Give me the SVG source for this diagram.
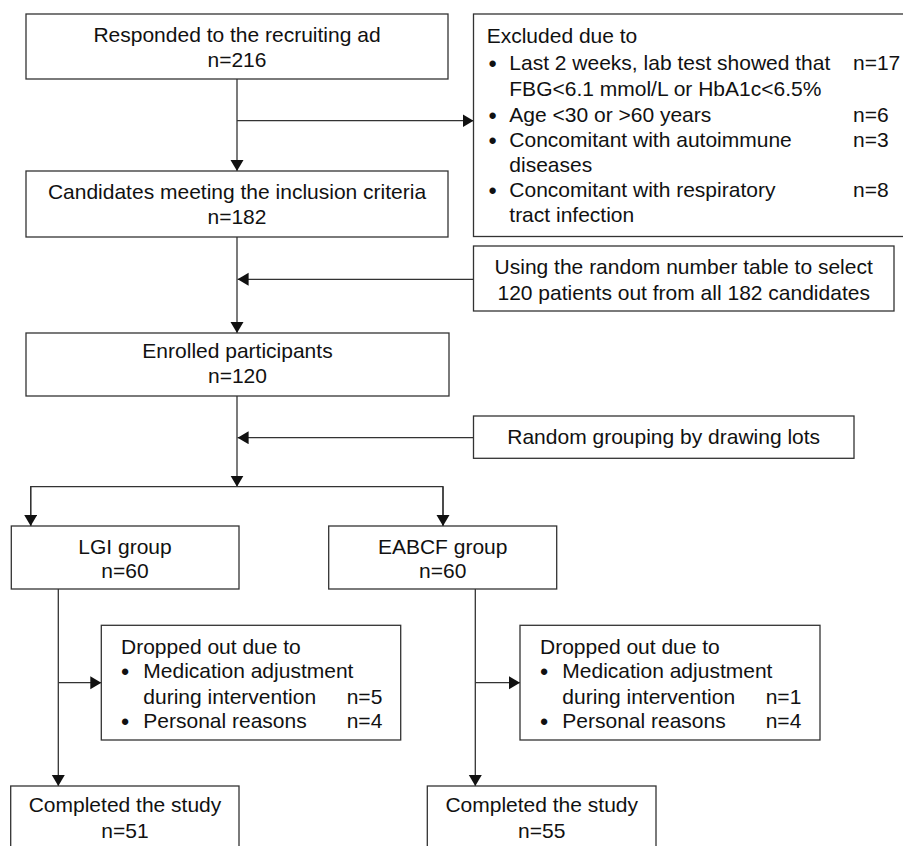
<svg xmlns="http://www.w3.org/2000/svg" width="903" height="846" viewBox="0 0 903 846">
<defs>
<style>
.box{fill:#fff;stroke:#333;stroke-width:1.3}
.ln{fill:none;stroke:#333;stroke-width:1.3}
text{font-family:"Liberation Sans",Arial,sans-serif;font-size:21px;fill:#111}
.c{text-anchor:middle}
.b{text-anchor:middle;font-size:22px;font-weight:bold}
</style>
<marker id="ah" markerUnits="userSpaceOnUse" markerWidth="12" markerHeight="14" refX="11" refY="6.5" orient="auto">
<path d="M0,0 L11,6.5 L0,13 z" fill="#111"/>
</marker>
</defs>
<rect width="903" height="846" fill="#fff"/>
<g id="connectors">
<line class="ln" x1="237" y1="79" x2="237" y2="171" marker-end="url(#ah)"/>
<line class="ln" x1="237" y1="120.7" x2="473.5" y2="120.7" marker-end="url(#ah)"/>
<line class="ln" x1="237" y1="237" x2="237" y2="333" marker-end="url(#ah)"/>
<line class="ln" x1="473.5" y1="279.3" x2="237.6" y2="279.3" marker-end="url(#ah)"/>
<line class="ln" x1="237" y1="396" x2="237" y2="486.7" marker-end="url(#ah)"/>
<polyline class="ln" points="30.7,526 30.7,486.7 443,486.7 443,526"/>
<line class="ln" x1="30.7" y1="486.7" x2="30.7" y2="526" marker-end="url(#ah)"/>
<line class="ln" x1="443" y1="486.7" x2="443" y2="526" marker-end="url(#ah)"/>
<line class="ln" x1="473.5" y1="437.7" x2="237.6" y2="437.7" marker-end="url(#ah)"/>
<line class="ln" x1="58.3" y1="589" x2="58.3" y2="786" marker-end="url(#ah)"/>
<line class="ln" x1="58.3" y1="682.7" x2="101.3" y2="682.7" marker-end="url(#ah)"/>
<line class="ln" x1="475.3" y1="589" x2="475.3" y2="786" marker-end="url(#ah)"/>
<line class="ln" x1="475.3" y1="682.7" x2="520" y2="682.7" marker-end="url(#ah)"/>
</g>
<g id="responded">
<rect class="box" x="26" y="14" width="422" height="65"/>
<text class="c" x="237" y="42">Responded to the recruiting ad</text>
<text class="c" x="237" y="67">n=216</text>
</g>
<g id="excluded">
<rect class="box" x="473.5" y="14" width="440" height="222.5"/>
<text x="486.7" y="43.3">Excluded due to</text>
<text class="b" x="492.7" y="71">•</text>
<text x="509.3" y="70">Last 2 weeks, lab test showed that</text>
<text x="853" y="70">n=17</text>
<text x="509.3" y="96">FBG&lt;6.1 mmol/L or HbA1c&lt;6.5%</text>
<text class="b" x="492.7" y="122.7">•</text>
<text x="509.3" y="121.7">Age &lt;30 or &gt;60 years</text>
<text x="853" y="121.7">n=6</text>
<text class="b" x="492.7" y="147.7">•</text>
<text x="509.3" y="146.7">Concomitant with autoimmune</text>
<text x="853" y="146.7">n=3</text>
<text x="509.3" y="171.7">diseases</text>
<text class="b" x="492.7" y="197.7">•</text>
<text x="509.3" y="196.7">Concomitant with respiratory</text>
<text x="853" y="196.7">n=8</text>
<text x="509.3" y="221.7">tract infection</text>
</g>
<g id="candidates">
<rect class="box" x="26" y="171" width="422" height="66"/>
<text class="c" x="237" y="199">Candidates meeting the inclusion criteria</text>
<text class="c" x="237" y="224">n=182</text>
</g>
<g id="random-table">
<rect class="box" x="473.5" y="246" width="420.5" height="65"/>
<text class="c" x="683.7" y="274.3">Using the random number table to select</text>
<text class="c" x="683.7" y="300">120 patients out from all 182 candidates</text>
</g>
<g id="enrolled">
<rect class="box" x="26" y="333" width="423" height="63"/>
<text class="c" x="237.5" y="357.5">Enrolled participants</text>
<text class="c" x="237.5" y="382.5">n=120</text>
</g>
<g id="random-grouping">
<rect class="box" x="473.5" y="416" width="380.5" height="42.3"/>
<text class="c" x="663.7" y="444">Random grouping by drawing lots</text>
</g>
<g id="lgi">
<rect class="box" x="11.3" y="526" width="227.7" height="63"/>
<text class="c" x="125" y="553.5">LGI group</text>
<text class="c" x="125" y="578">n=60</text>
</g>
<g id="eabcf">
<rect class="box" x="328.7" y="526" width="228" height="63"/>
<text class="c" x="442.7" y="553.5">EABCF group</text>
<text class="c" x="442.7" y="578">n=60</text>
</g>
<g id="dropped-lgi">
<rect class="box" x="101.3" y="625.3" width="299.4" height="114.7"/>
<text x="121" y="653.5">Dropped out due to</text>
<text class="b" x="125" y="679">•</text>
<text x="143.3" y="678">Medication adjustment</text>
<text x="143.3" y="703.5">during intervention</text>
<text x="346.7" y="703.5">n=5</text>
<text class="b" x="125" y="728.5">•</text>
<text x="143.3" y="727.5">Personal reasons</text>
<text x="346.7" y="727.5">n=4</text>
</g>
<g id="dropped-eabcf">
<rect class="box" x="520" y="625.3" width="300" height="114.7"/>
<text x="540" y="653.5">Dropped out due to</text>
<text class="b" x="544" y="679">•</text>
<text x="562.3" y="678">Medication adjustment</text>
<text x="562.3" y="703.5">during intervention</text>
<text x="765.7" y="703.5">n=1</text>
<text class="b" x="544" y="728.5">•</text>
<text x="562.3" y="727.5">Personal reasons</text>
<text x="765.7" y="727.5">n=4</text>
</g>
<g id="completed-lgi">
<rect class="box" x="10.7" y="786" width="228.3" height="80"/>
<text class="c" x="125" y="811.7">Completed the study</text>
<text class="c" x="125" y="838.3">n=51</text>
</g>
<g id="completed-eabcf">
<rect class="box" x="427.3" y="786" width="228.7" height="80"/>
<text class="c" x="541.7" y="811.7">Completed the study</text>
<text class="c" x="541.7" y="838.3">n=55</text>
</g>
</svg>
